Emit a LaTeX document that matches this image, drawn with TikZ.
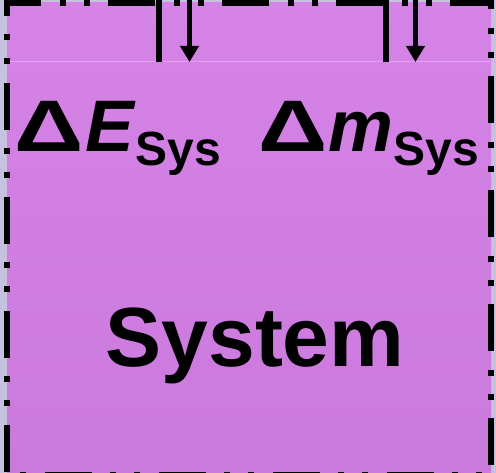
\documentclass[tikz,border=0pt]{standalone}
\usepackage{fontspec}
\setmainfont{Liberation Sans}
\usepackage{graphicx}
\usepackage{tikz}
\usetikzlibrary{arrows.meta, positioning, calc}
\definecolor{syslavender}{RGB}{196, 194, 221}
\definecolor{systop}     {RGB}{214, 131, 231}
\definecolor{sysbottom}  {RGB}{202, 121, 220}
\definecolor{sysseam}    {RGB}{232, 160, 240}
\newcommand{\sysdelta}{\scalebox{1.32}[1]{Δ}}

\begin{document}
\begin{tikzpicture}[x=1pt,y=-1pt,
	boundary/.style={line width=6pt, dash pattern=on 47pt off 19pt on 6pt off 18pt on 6pt off 18pt, dash phase=111pt},
	wall/.style={line width=6pt},
	flow/.style={line width=5pt, -{Triangle[length=16pt,width=18pt]}},
	lbl/.style={inner sep=0pt, font=\bfseries}
	]
	\useasboundingbox (0,0) rectangle (496,473);
	\clip (0,0) rectangle (496,473);
	\fill[syslavender] (0,0) rectangle (496,473);
	\shade[top color=systop, bottom color=sysbottom] (7,3) rectangle (491,475);
	\draw[sysseam, line width=1pt] (0,62) -- (496,62);
	\draw[boundary] (7,475) -- (7,3) -- (491,3) -- (491,475) -- cycle;
	% heat and mass in
	\coordinate (wallE) at (159,-2);
	\coordinate (wallEend) at (159,62);
	\coordinate (inE) at (189.5,-2);
	\coordinate (inEend) at (189.5,62);
	\coordinate (wallM) at (386,-2);
	\coordinate (wallMend) at (386,62);
	\coordinate (inM) at (415.5,-2);
	\coordinate (inMend) at (415.5,62);
	\draw[wall] (wallE) -- (wallEend);
	\draw[wall] (wallM) -- (wallMend);
	\draw[flow] (inE) -- (inEend);
	\draw[flow] (inM) -- (inMend);
	\node[lbl, anchor=base west] (dE) at (14,152) {{\fontsize{73}{73}\selectfont\sysdelta\kern2pt\textit{E}}\raisebox{-14pt}{\fontsize{48}{48}\selectfont Sys}};
	\node[lbl, anchor=base west] (dm) at (258,152) {{\fontsize{73}{73}\selectfont\sysdelta\kern1pt\textit{m}}\raisebox{-14pt}{\fontsize{48}{48}\selectfont Sys}};
	\node[lbl, anchor=base] (sys) at (255,367) {\fontsize{84}{84}\selectfont System};
\end{tikzpicture}
\end{document}
